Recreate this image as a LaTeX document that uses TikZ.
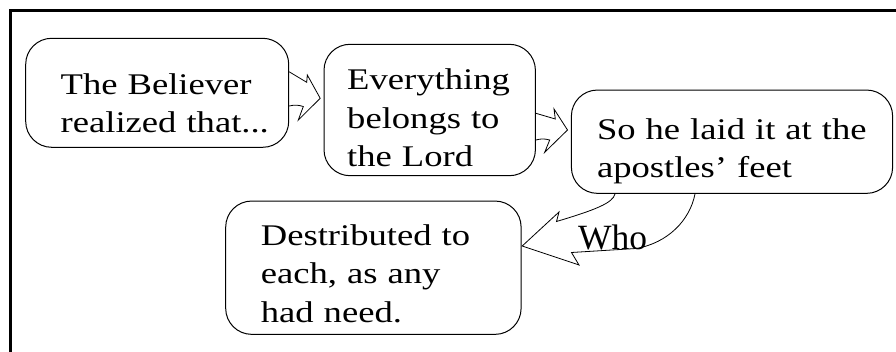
\documentclass[tikz,border=0pt]{standalone}
\usepackage{fontspec}
\setmainfont{Liberation Serif}[FakeStretch=1.22]
\newfontfamily\whofont{Liberation Serif}
\usetikzlibrary{calc}
\hyphenpenalty=10000
\newcommand\lead[1]{\rule{0pt}{#1pt}}

\begin{document}
\begin{tikzpicture}[x=1pt,y=-1pt,
   font=\fontsize{30}{38.5}\selectfont,
   bubble/.style={draw,line width=1pt,rounded corners=26pt,align=left,inner sep=0pt},
   fat/.style={line width=0.8pt,line join=miter}]
  \useasboundingbox (0,0) rectangle (896,352);
  \draw[line width=3pt] (896,10.5) -| (10.5,352);
  % the four statements
  \node[bubble,minimum width=263,minimum height=109,text width=193] (b1) at (157.2,92.8)
    {\lead{42}The Believer\\realized~that...};
  \node[bubble,minimum width=211.4,minimum height=131.4,text width=165] (b2) at (429.7,110)
    {\lead{37}Everything\\belongs to\\the Lord};
  \node[bubble,minimum width=321.2,minimum height=103.3,text width=270] (b3) at (732,141.7)
    {\lead{40}So he laid it at~the\\apostles' feet};
  \node[bubble,minimum width=295.4,minimum height=133.3,text width=225] (b4) at (373.4,267.7)
    {\lead{33}Destributed to\\each, as any\\had need.};
  % fat open arrows
  \draw[fat] ([shift={(0,-21)}]b1.east) -- (306.7,82.3) -- (307.3,75)
    -- ([shift={(-3.3,-11.7)}]b2.west) -- (298.3,120) -- (303.3,106.5)
    to[bend right=15] ([shift={(0,13.2)}]b1.east);
  \draw[fat] ([shift={(0,3.3)}]b2.east) -- (555.3,119) -- (554,109)
    -- ([shift={(-3.4,-11.7)}]b3.west) -- (544.7,152.3) -- (549.7,140)
    to[bend right=15] ([shift={(0,30)}]b2.east);
  \draw[fat] ([shift={(-117,0)}]b3.south) .. controls (613,203) and (595,210) .. (556.5,221.5)
    -- (559,212) -- ([shift={(0.6,-21.7)}]b4.east) -- (579,265) -- (571.5,252.5)
    -- (636,248.5) .. controls (668,243) and (690,220) .. ([shift={(-37,0)}]b3.south);
  \node[font=\whofont\fontsize{35.5}{40}\selectfont,anchor=base,inner sep=0pt] (who) at (612.5,250) {Who};
\end{tikzpicture}
\end{document}
